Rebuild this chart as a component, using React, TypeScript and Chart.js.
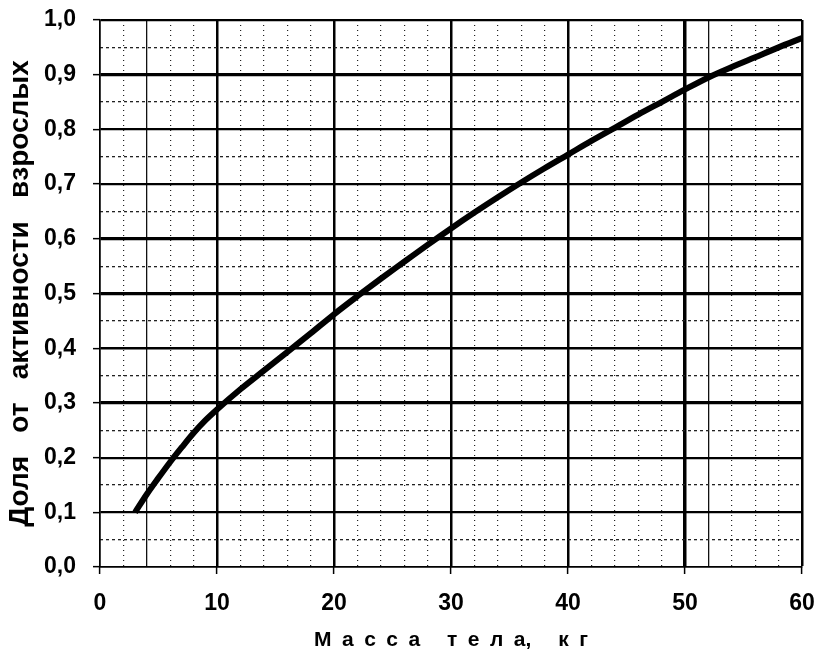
import React, { useEffect, useRef } from "react";
import { Chart, registerables } from "chart.js";

Chart.register(...registerables);

// ---- data ----
const massKg = [3, 4, 5, 6, 7, 8, 9, 10, 12, 14, 16, 18, 20, 22, 24, 26, 28, 30, 32, 34, 36, 38, 40, 42, 44, 46, 48, 50, 52, 54, 56, 58, 60];
const activityFraction = [0.1, 0.133, 0.163, 0.192, 0.219, 0.245, 0.268, 0.288, 0.325, 0.359, 0.393, 0.427, 0.462, 0.495, 0.527, 0.558, 0.589, 0.619, 0.648, 0.676, 0.703, 0.729, 0.754, 0.779, 0.803, 0.827, 0.85, 0.873, 0.895, 0.914, 0.932, 0.95, 0.967];
const xTickLabels = ["0", "10", "20", "30", "40", "50", "60"];
const yTickLabels = ["0,0", "0,1", "0,2", "0,3", "0,4", "0,5", "0,6", "0,7", "0,8", "0,9", "1,0"];
const xTitle = "М\u2002а\u2002с\u2002с\u2002а\u2003 т\u2002е\u2002л\u2002а,\u2003 к\u2002г";
const yTitle = "Доля   от   активности   взрослых";

const tickFont = { family: "'Liberation Sans', Arial, sans-serif", size: 23, weight: "bold" as const };
const titleFont = { family: "'Liberation Sans', Arial, sans-serif", size: 28, weight: "bold" as const };

const isMult = (v: number, step: number) => Math.abs(v / step - Math.round(v / step)) < 1e-6;
const CLEAR = "rgba(0,0,0,0)";

export default function App() {
  const ref = useRef<HTMLCanvasElement | null>(null);

  useEffect(() => {
    document.body.style.margin = "0";
    if (!ref.current) return;
    const chart = new Chart(ref.current, {
      type: "line",
      data: {
        datasets: [
          {
            data: massKg.map((x, i) => ({ x, y: activityFraction[i] })),
            borderColor: "#000",
            borderWidth: 6,
            pointRadius: 0,
            cubicInterpolationMode: "monotone",
            fill: false,
          },
        ],
      },
      options: {
        animation: false,
        responsive: true,
        maintainAspectRatio: false,
        layout: { padding: { top: 20, right: 14, left: 0, bottom: 0 } },
        plugins: { legend: { display: false }, tooltip: { enabled: false } },
        scales: {
          x: {
            type: "linear",
            min: 0,
            max: 60,
            position: "bottom",
            weight: 1,
            afterFit: (s: any) => { s.height = 92; },
            ticks: {
              stepSize: 2,
              autoSkip: false,
              maxRotation: 0,
              color: "#000",
              padding: 0,
              font: tickFont,
              callback: (v: any) => (isMult(Number(v), 10) ? xTickLabels[Math.round(Number(v) / 10)] : ""),
            },
            grid: {
              color: (c: any) => {
                const v = c.tick?.value ?? 0;
                if (isMult(v, 10)) return "#000";
                if (Math.abs(v - 4) < 1e-6 || Math.abs(v - 52) < 1e-6) return "#111";
                return CLEAR;
              },
              lineWidth: (c: any) => {
                const v = c.tick?.value ?? 0;
                if (Math.abs(v - 50) < 1e-6) return 3.5;
                if (Math.abs(v) < 1e-6) return 1.5;
                if (isMult(v, 10)) return 2.5;
                return 1.3;
              },
              tickLength: 23,
              tickColor: CLEAR,
            },
            border: { display: true, color: "#000", width: 1.5 },
            title: { display: true, text: xTitle, color: "#000", font: { ...titleFont, size: 21 }, padding: { top: 4, bottom: 6 } },
          },
          xMinor: {
            type: "linear",
            min: 0,
            max: 60,
            position: "bottom",
            weight: 0,
            afterFit: (s: any) => { s.height = 0; },
            ticks: { stepSize: 2, autoSkip: false, display: false },
            grid: {
              drawTicks: true,
              tickLength: 7,
              tickWidth: 1.5,
              tickColor: (c: any) => (isMult(c.tick?.value ?? 0, 10) ? "#000" : CLEAR),
              color: (c: any) => {
                const v = c.tick?.value ?? 0;
                if (isMult(v, 10) || Math.abs(v - 4) < 1e-6 || Math.abs(v - 52) < 1e-6) return CLEAR;
                return "#222";
              },
              lineWidth: 1.2,
            },
            border: { display: false, dash: [1, 4] },
          },
          y: {
            type: "linear",
            min: 0,
            max: 1,
            position: "left",
            weight: 1,
            afterFit: (s: any) => { s.width = 100; },
            ticks: {
              stepSize: 0.1,
              autoSkip: false,
              color: "#000",
              padding: 0,
              font: tickFont,
              callback: (_v: any, i: number) => yTickLabels[i],
            },
            grid: {
              color: "#000",
              lineWidth: (c: any) => {
                const v = Math.round((c.tick?.value ?? 0) * 10);
                if (v === 0) return 1.5;
                if (v === 3 || v === 5 || v === 6 || v === 9) return 3.2;
                if (v === 4) return 2.6;
                return 2.2;
              },
              tickLength: 24,
              tickColor: CLEAR,
            },
            border: { display: true, color: "#000", width: 1.5 },
            title: { display: true, text: yTitle, color: "#000", font: titleFont, padding: { top: 3, bottom: 0 } },
          },
          yMinor: {
            type: "linear",
            min: 0,
            max: 1,
            position: "left",
            weight: 0,
            afterFit: (s: any) => { s.width = 0; },
            ticks: { stepSize: 0.05, autoSkip: false, display: false },
            grid: {
              drawTicks: true,
              tickLength: 7,
              tickWidth: 1.5,
              tickColor: (c: any) => (isMult(c.tick?.value ?? 0, 0.1) ? "#000" : CLEAR),
              color: (c: any) => (isMult(c.tick?.value ?? 0, 0.1) ? CLEAR : "#222"),
              lineWidth: 1.3,
            },
            border: { display: false, dash: [3, 3] },
          },
        },
      },
    });
    return () => chart.destroy();
  }, []);

  return (
    <div style={{ position: "fixed", left: 0, top: 0, width: 816, height: 659, background: "#fff" }}>
      <canvas ref={ref} />
    </div>
  );
}
